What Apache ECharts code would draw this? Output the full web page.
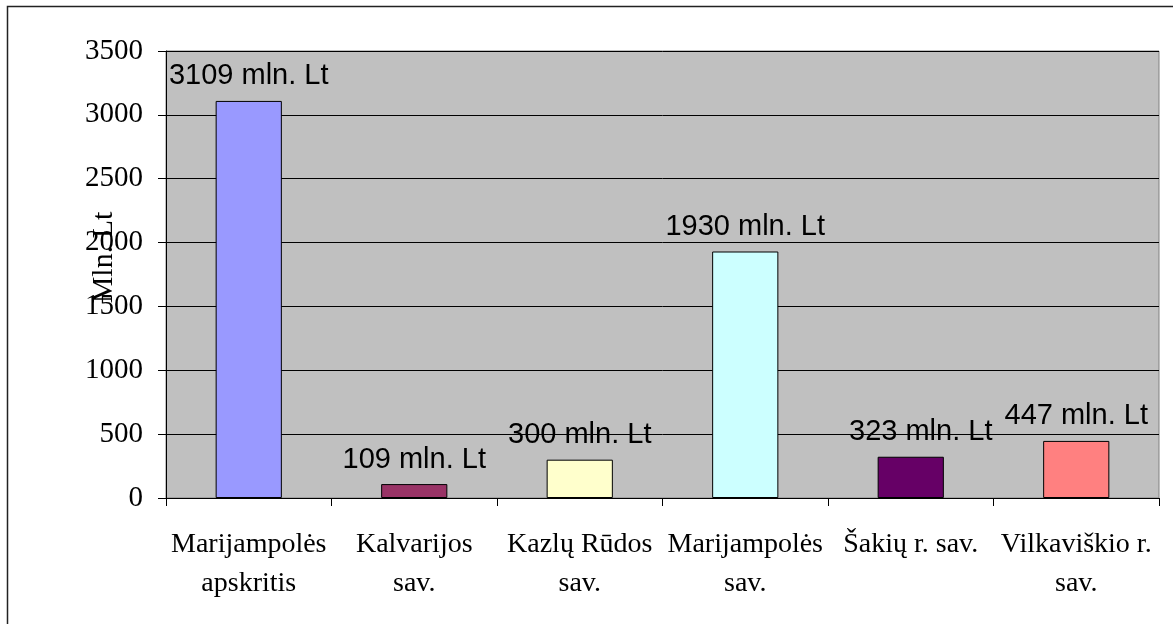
<!DOCTYPE html>
<html><head><meta charset="utf-8">
<script src="https://cdn.jsdelivr.net/npm/echarts@6/dist/echarts.min.js"></script>
<style>html,body{margin:0;padding:0;background:#fff}#c{width:1173px;height:624px}</style>
</head><body><div id="c"></div>
<script>
const categories = ["Marijampolės\napskritis", "Kalvarijos\nsav.", "Kazlų Rūdos\nsav.", "Marijampolės\nsav.", "Šakių r. sav.", "Vilkaviškio r.\nsav."];
const values = [3109, 109, 300, 1930, 323, 447];
const colors = ["#9999FF", "#993366", "#FFFFCC", "#CCFFFF", "#660066", "#FF8080"];
const yTicks = [0, 500, 1000, 1500, 2000, 2500, 3000, 3500];
const yName = "Mln. Lt";
const labelSuffix = " mln. Lt";

const chart = echarts.init(document.getElementById('c'), null, {renderer: 'canvas'});
chart.setOption({
  animation: false,
  backgroundColor: '#fff',
  graphic: [{
    type: 'polyline', z: -1,
    shape: {points: [[7.5, 624], [7.5, 6.5], [1173, 6.5]]},
    style: {fill: 'none', stroke: '#222', lineWidth: 1.5}
  }],
  grid: {left: 166, right: 14, top: 51, bottom: 126, show: true, backgroundColor: '#C0C0C0', borderColor: '#808080', borderWidth: 1},
  xAxis: {
    type: 'category', data: categories,
    axisLine: {lineStyle: {color: '#000', width: 1}},
    axisTick: {show: true, length: 8, lineStyle: {color: '#000'}, alignWithLabel: false},
    axisLabel: {fontFamily: 'Liberation Serif', fontSize: 28, color: '#000', margin: 27, lineHeight: 39, interval: 0}
  },
  yAxis: {
    type: 'value', min: 0, max: 3500, interval: 500,
    name: yName, nameLocation: 'middle', nameRotate: 90, nameGap: 47, nameMoveOverlap: false,
    nameTextStyle: {fontFamily: 'Liberation Serif', fontSize: 30, color: '#000', padding: [0, 0, 0, 34]},
    axisLine: {show: true, lineStyle: {color: '#000'}},
    axisTick: {show: true, length: 8, lineStyle: {color: '#000'}},
    splitLine: {show: true, lineStyle: {color: '#000', width: 1}},
    axisLabel: {fontFamily: 'Liberation Serif', fontSize: 29, color: '#000', margin: 23,
      formatter: v => yTicks.includes(v) ? String(v) : ''}
  },
  series: [{
    type: 'bar',
    data: values.map((v, i) => ({value: v, itemStyle: {color: colors[i]}, label: i === 4 ? {offset: [10, 0]} : undefined})),
    barWidth: '40%',
    itemStyle: {borderColor: '#000', borderWidth: 1},
    label: {show: true, position: 'top', distance: 10, formatter: p => p.value + labelSuffix,
      fontFamily: 'Liberation Sans', fontSize: 29, color: '#000'}
  }]
});
</script></body></html>
